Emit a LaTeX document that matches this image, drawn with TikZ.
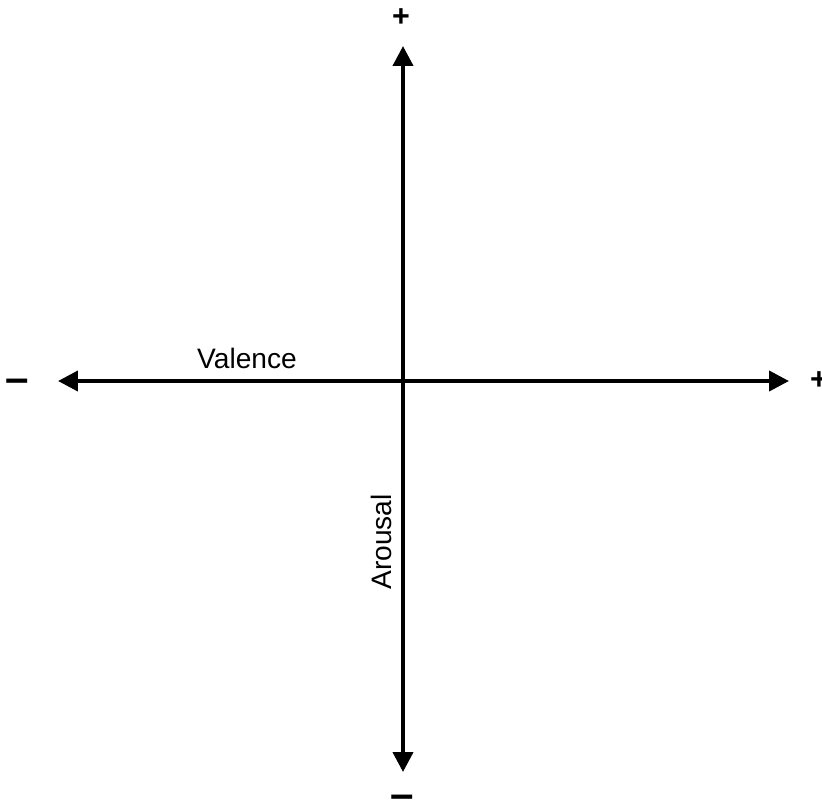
\documentclass[tikz,border=0pt]{standalone}
\usepackage{fontspec}
\setmainfont{Liberation Sans}
\usepackage{tikz}
\usetikzlibrary{arrows.meta, positioning}
\tikzset{
  axis/.style={{Triangle[length=17pt,width=17pt]}-{Triangle[length=17pt,width=17pt]},
               line width=3.4pt, draw=black},
  axislabel/.style={font=\fontsize{24}{27}\selectfont, inner sep=0pt},
  signlabel/.style={font=\fontsize{26}{28}\selectfont\bfseries, inner sep=0pt},
  minuslabel/.style={font=\fontsize{36}{38}\selectfont\bfseries, inner sep=0pt},
}

\begin{document}
\begin{tikzpicture}[x=0.03cm, y=-0.03cm]
  \useasboundingbox (0,0) rectangle (822,804);

  % Axis ends
  \coordinate (origin) at (403,381);
  \coordinate (west)   at (58,381);
  \coordinate (east)   at (789,381);
  \coordinate (north)  at (403,46);
  \coordinate (south)  at (403,772);

  % Axes
  \draw[axis] (west) -- (east);
  \draw[axis] (south) -- (north);

  % Signs
  \node[minuslabel] (vmin)  at (17,386)  {--};
  \node[signlabel]  (vplus) at (819,381) {+};
  \node[signlabel]  (aplus) at (401,18)  {+};
  \node[minuslabel] (amin)  at (402,802) {--};

  % Axis names
  \node[axislabel] (valence) at (247,358) {Valence};
  \node[axislabel, rotate=90] (arousal) at (381,542) {Arousal};

\end{tikzpicture}
\end{document}
